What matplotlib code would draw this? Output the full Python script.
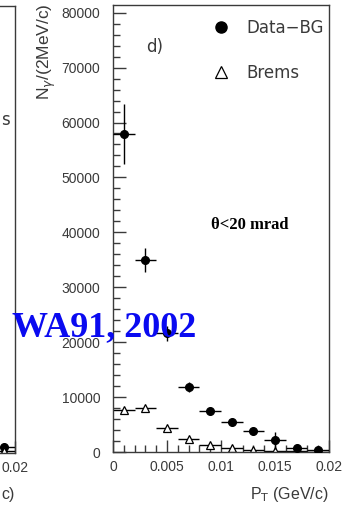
import numpy as np
import matplotlib
matplotlib.use("Agg")
import matplotlib.pyplot as plt
from matplotlib.lines import Line2D
from matplotlib.ticker import MultipleLocator

# dados (painel d)
pt = [0.001, 0.003, 0.005, 0.007, 0.009, 0.011, 0.013, 0.015, 0.017, 0.019]
pt_err = [0.001] * 10
data_bg = [57900, 35000, 21600, 11800, 7500, 5400, 3900, 2100, 650, 350]
data_bg_err = [5500, 2200, 1300, 900, 600, 500, 400, 1500, 300, 200]
brems = [7700, 8100, 4300, 2400, 1300, 650, 350, 200, 120, 60]

# painel c) (so a borda direita aparece)
pt_c = [0.019]
data_c = [1100]
brems_c = [350]

W, H = 347, 509
cinza = "#3a3a3a"
fonte = "Liberation Sans"
fonte2 = "DejaVu Sans"

fig = plt.figure(figsize=(W / 100, H / 100), dpi=100)


def px(x0, y0, x1, y1):
    return [x0 / W, 1 - y1 / H, (x1 - x0) / W, (y1 - y0) / H]


def estilo(ax):
    for s in ax.spines.values():
        s.set_color(cinza)
        s.set_linewidth(1.0)
    ax.set_xlim(0, 0.02)
    ax.set_ylim(0, 81400)
    ax.xaxis.set_major_locator(MultipleLocator(0.005))
    ax.xaxis.set_minor_locator(MultipleLocator(0.001))
    ax.yaxis.set_major_locator(MultipleLocator(10000))
    ax.yaxis.set_minor_locator(MultipleLocator(2000))
    ax.tick_params(which="both", direction="in", colors=cinza, top=False, right=False,
                   labelsize=10, width=1.0)
    ax.tick_params(which="major", length=9)
    ax.tick_params(which="minor", length=5)
    ax.tick_params(axis="x", pad=6)
    ax.tick_params(axis="y", pad=9)
    for lb in ax.get_xticklabels() + ax.get_yticklabels():
        lb.set_family(fonte)
    ax.xaxis.set_major_formatter(plt.FuncFormatter(lambda v, p: "0" if v == 0 else f"{v:g}"))


# painel c (cortado a esquerda)
axc = fig.add_axes(px(-201, 6, 15, 453))
estilo(axc)
axc.set_yticklabels([])
axc.xaxis.set_major_formatter(plt.FuncFormatter(lambda v, p: "0.02" if abs(v - 0.02) < 1e-9 else ""))
axc.errorbar(pt_c, data_c, xerr=0.001, fmt="o", color="k", ms=5.5, lw=1.0)
axc.errorbar(pt_c, brems_c, xerr=0.001, fmt="^", mfc="white", mec="k", color="k", ms=5.5, lw=1.0)
fig.text(10 / W, 1 - 120 / H, "s", ha="right", va="center", fontsize=12, color=cinza, family=fonte2)
fig.text(15 / W, 1 - 494 / H, "c)", ha="right", va="center", fontsize=11.5, color=cinza, family=fonte)

# painel d
ax = fig.add_axes(px(113, 5, 329, 452))
estilo(ax)
ax.errorbar(pt, data_bg, xerr=pt_err, yerr=data_bg_err, fmt="o", color="k", ms=5.5, lw=1.0, zorder=3)
ax.errorbar(pt, brems, xerr=pt_err, fmt="^", mfc="white", mec="k", color="k", ms=5.5, lw=1.0, mew=0.9, zorder=2)

h1 = Line2D([], [], marker="o", ls="none", color="k", ms=8)
h2 = Line2D([], [], marker="^", ls="none", mfc="white", mec="k", ms=8, mew=0.9)
leg = ax.legend([h1, h2], ["Data\u2212BG", "Brems"], loc="upper left",
                bbox_to_anchor=(213 / W, 1 - 19 / H), bbox_transform=fig.transFigure,
                frameon=False, borderpad=0, borderaxespad=0, handlelength=1.0,
                handletextpad=1.0, labelspacing=1.6, prop={"family": fonte2, "size": 12})
for t in leg.get_texts():
    t.set_color(cinza)

ax.text(146 / W, 1 - 47 / H, "d)", transform=fig.transFigure, ha="left", va="center",
        fontsize=12, color=cinza, family=fonte2)
ax.text(211 / W, 1 - 225 / H, "\u03b8<20 mrad", transform=fig.transFigure, ha="left", va="center",
        fontsize=12, fontweight="bold", family="Liberation Serif", color="k")

fig.text(47 / W, 1 - 3 / H, r"N$_{\gamma}$/(2MeV/c)", rotation=90, ha="center", va="top",
         fontsize=12.5, color=cinza, family=fonte)
fig.text(329 / W, 1 - 494 / H, r"P$_{\rm T}$ (GeV/c)", ha="right", va="center",
         fontsize=11.5, color=cinza, family=fonte)

fig.text(12 / W, 1 - 328 / H, "WA91, 2002", ha="left", va="center", fontsize=26,
         fontweight="bold", family="Liberation Serif", color="#0a0af0", zorder=10)

fig.savefig("out.png", dpi=100)
